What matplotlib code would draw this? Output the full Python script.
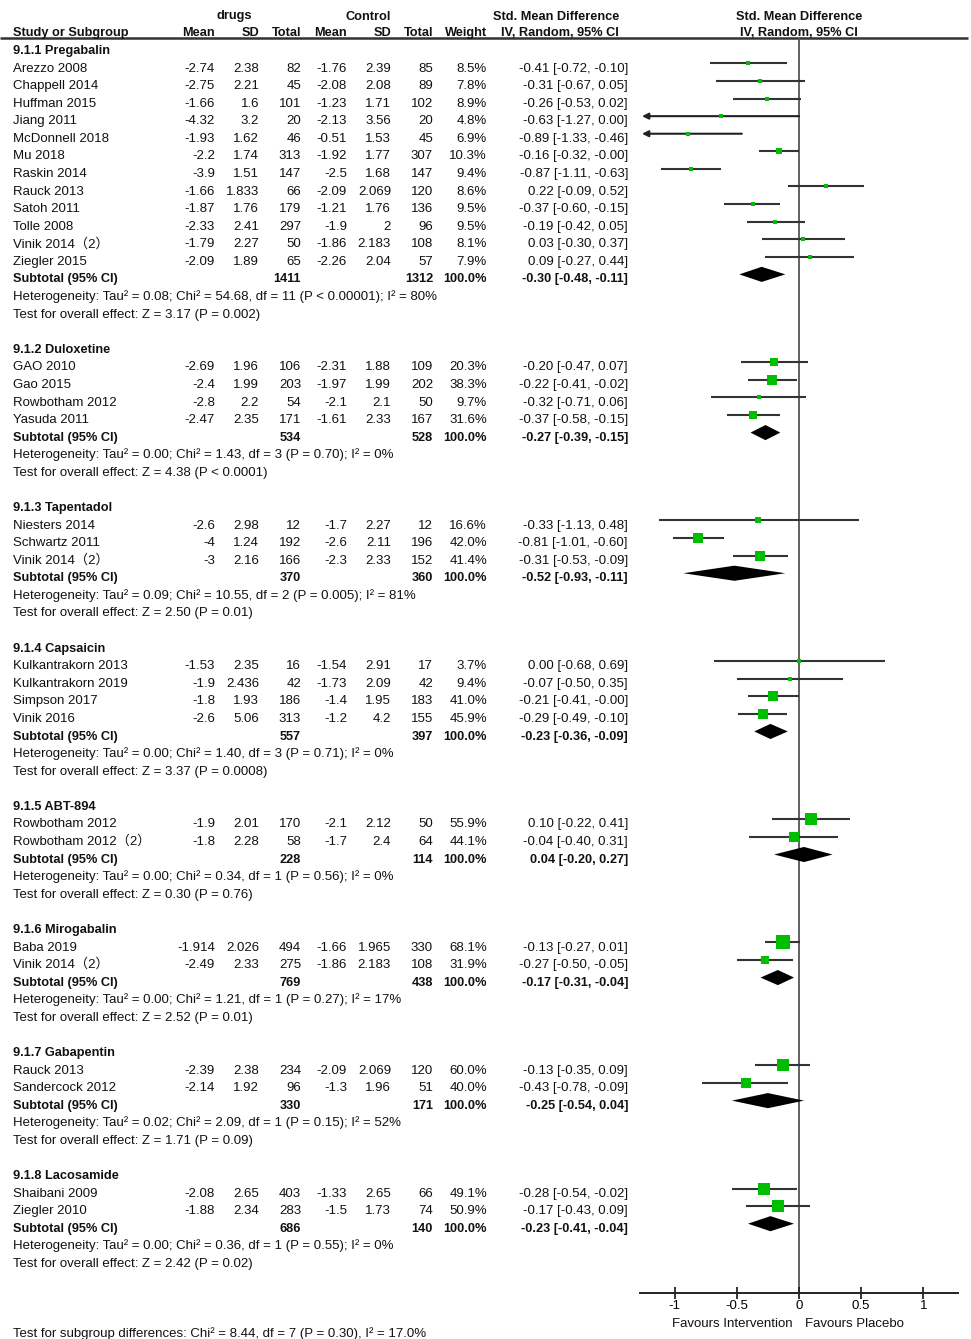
import numpy as np
import matplotlib.pyplot as plt

plt.rcParams['font.family'] = ['Liberation Sans', 'Noto Sans CJK SC']

group_names = ['9.1.1 Pregabalin', '9.1.2 Duloxetine', '9.1.3 Tapentadol', '9.1.4 Capsaicin',
               '9.1.5 ABT-894', '9.1.6 Mirogabalin', '9.1.7 Gabapentin', '9.1.8 Lacosamide']
group_sizes = [12, 4, 3, 4, 2, 2, 2, 2]

studies = ['Arezzo 2008', 'Chappell 2014', 'Huffman 2015', 'Jiang 2011', 'McDonnell 2018', 'Mu 2018',
           'Raskin 2014', 'Rauck 2013', 'Satoh 2011', 'Tolle 2008', 'Vinik 2014（2）', 'Ziegler 2015',
           'GAO 2010', 'Gao 2015', 'Rowbotham 2012', 'Yasuda 2011',
           'Niesters 2014', 'Schwartz 2011', 'Vinik 2014（2）',
           'Kulkantrakorn 2013', 'Kulkantrakorn 2019', 'Simpson 2017', 'Vinik 2016',
           'Rowbotham 2012', 'Rowbotham 2012（2）',
           'Baba 2019', 'Vinik 2014（2）',
           'Rauck 2013', 'Sandercock 2012',
           'Shaibani 2009', 'Ziegler 2010']
drug_mean = [-2.74, -2.75, -1.66, -4.32, -1.93, -2.2, -3.9, -1.66, -1.87, -2.33, -1.79, -2.09,
             -2.69, -2.4, -2.8, -2.47,
             -2.6, -4, -3,
             -1.53, -1.9, -1.8, -2.6,
             -1.9, -1.8,
             -1.914, -2.49,
             -2.39, -2.14,
             -2.08, -1.88]
drug_sd = [2.38, 2.21, 1.6, 3.2, 1.62, 1.74, 1.51, 1.833, 1.76, 2.41, 2.27, 1.89,
           1.96, 1.99, 2.2, 2.35,
           2.98, 1.24, 2.16,
           2.35, 2.436, 1.93, 5.06,
           2.01, 2.28,
           2.026, 2.33,
           2.38, 1.92,
           2.65, 2.34]
drug_n = [82, 45, 101, 20, 46, 313, 147, 66, 179, 297, 50, 65,
          106, 203, 54, 171,
          12, 192, 166,
          16, 42, 186, 313,
          170, 58,
          494, 275,
          234, 96,
          403, 283]
ctrl_mean = [-1.76, -2.08, -1.23, -2.13, -0.51, -1.92, -2.5, -2.09, -1.21, -1.9, -1.86, -2.26,
             -2.31, -1.97, -2.1, -1.61,
             -1.7, -2.6, -2.3,
             -1.54, -1.73, -1.4, -1.2,
             -2.1, -1.7,
             -1.66, -1.86,
             -2.09, -1.3,
             -1.33, -1.5]
ctrl_sd = [2.39, 2.08, 1.71, 3.56, 1.53, 1.77, 1.68, 2.069, 1.76, 2, 2.183, 2.04,
           1.88, 1.99, 2.1, 2.33,
           2.27, 2.11, 2.33,
           2.91, 2.09, 1.95, 4.2,
           2.12, 2.4,
           1.965, 2.183,
           2.069, 1.96,
           2.65, 1.73]
ctrl_n = [85, 89, 102, 20, 45, 307, 147, 120, 136, 96, 108, 57,
          109, 202, 50, 167,
          12, 196, 152,
          17, 42, 183, 155,
          50, 64,
          330, 108,
          120, 51,
          66, 74]
weight = [8.5, 7.8, 8.9, 4.8, 6.9, 10.3, 9.4, 8.6, 9.5, 9.5, 8.1, 7.9,
          20.3, 38.3, 9.7, 31.6,
          16.6, 42.0, 41.4,
          3.7, 9.4, 41.0, 45.9,
          55.9, 44.1,
          68.1, 31.9,
          60.0, 40.0,
          49.1, 50.9]
smd = [-0.41, -0.31, -0.26, -0.63, -0.89, -0.16, -0.87, 0.22, -0.37, -0.19, 0.03, 0.09,
       -0.20, -0.22, -0.32, -0.37,
       -0.33, -0.81, -0.31,
       0.00, -0.07, -0.21, -0.29,
       0.10, -0.04,
       -0.13, -0.27,
       -0.13, -0.43,
       -0.28, -0.17]
ci_lo = [-0.72, -0.67, -0.53, -1.27, -1.33, -0.32, -1.11, -0.09, -0.60, -0.42, -0.30, -0.27,
         -0.47, -0.41, -0.71, -0.58,
         -1.13, -1.01, -0.53,
         -0.68, -0.50, -0.41, -0.49,
         -0.22, -0.40,
         -0.27, -0.50,
         -0.35, -0.78,
         -0.54, -0.43]
ci_hi = [-0.10, 0.05, 0.02, 0.00, -0.46, -0.0, -0.63, 0.52, -0.15, 0.05, 0.37, 0.44,
         0.07, -0.02, 0.06, -0.15,
         0.48, -0.60, -0.09,
         0.69, 0.35, -0.0, -0.10,
         0.41, 0.31,
         0.01, -0.05,
         0.09, -0.09,
         -0.02, 0.09]

sub_drug_n = [1411, 534, 370, 557, 228, 769, 330, 686]
sub_ctrl_n = [1312, 528, 360, 397, 114, 438, 171, 140]
sub_smd = [-0.30, -0.27, -0.52, -0.23, 0.04, -0.17, -0.25, -0.23]
sub_lo = [-0.48, -0.39, -0.93, -0.36, -0.20, -0.31, -0.54, -0.41]
sub_hi = [-0.11, -0.15, -0.11, -0.09, 0.27, -0.04, 0.04, -0.04]
het_tau2 = [0.08, 0.00, 0.09, 0.00, 0.00, 0.00, 0.02, 0.00]
het_chi2 = [54.68, 1.43, 10.55, 1.40, 0.34, 1.21, 2.09, 0.36]
het_df = [11, 3, 2, 3, 1, 1, 1, 1]
het_p = ['< 0.00001', '= 0.70', '= 0.005', '= 0.71', '= 0.56', '= 0.27', '= 0.15', '= 0.55']
het_i2 = [80, 0, 81, 0, 0, 17, 52, 0]
z_val = [3.17, 4.38, 2.50, 3.37, 0.30, 2.52, 1.71, 2.42]
z_p = ['= 0.002', '< 0.0001', '= 0.01', '= 0.0008', '= 0.76', '= 0.01', '= 0.09', '= 0.02']
subgroup_test = 'Test for subgroup differences: Chi² = 8.44, df = 7 (P = 0.30), I² = 17.0%'

# layout (pixels of the 971x1339 canvas, rows of 17.58 px)
W, H = 971, 1339
y0, dy = 49, 17.58
fs = 9.5          # regular text
fsb = 9.2         # bold text
green = '#00bf00'
base = 0.28        # text baseline offset below row centre
moff = -0.18       # marks sit a little above the text centre


def r(px):
    return (px - y0) / dy


fig = plt.figure(figsize=(W / 100, H / 100), dpi=100)
ax = fig.add_axes([0, 0, 1, 1])
ax.set_xlim(0, W)
ax.set_ylim(r(H), r(0))
ax.axis('off')

# forest panel: x=0 at 799px, 124.3 px per unit, axis from y=38 to 1293
ppu = 124.3
fx0, fx1 = 640, 958
axf = fig.add_axes([fx0 / W, 1 - 1293 / H, (fx1 - fx0) / W, (1293 - 38) / H])
axf.set_xlim((fx0 - 799) / ppu, (fx1 - 799) / ppu)
axf.set_ylim(r(1293), r(38))
axf.patch.set_alpha(0)
for s in ['left', 'right', 'top']:
    axf.spines[s].set_visible(False)
axf.spines['bottom'].set_linewidth(1.4)
axf.spines['bottom'].set_color('#222222')
axf.set_yticks([])
axf.set_xticks([-1, -0.5, 0, 0.5, 1])
axf.set_xticklabels(['-1', '-0.5', '0', '0.5', '1'], fontsize=fs)
axf.tick_params(axis='x', direction='inout', length=8, width=1.3, color='#222222', pad=1)
axf.axvline(0, color='#555555', lw=1.3, zorder=1)

cols = [215, 259, 301, 347, 391, 433, 487]
ci_x = 628
left = 13


def txt(x, row, s, ha='left', bold=False):
    ax.text(x, row + base, s, ha=ha, va='baseline', fontsize=fsb if bold else fs,
            fontweight='bold' if bold else 'normal', color='#111111')


# header
hb1, hb2 = r(19.5), r(36)
for x, s in [(234, 'drugs'), (368, 'Control'), (556, 'Std. Mean Difference'), (799, 'Std. Mean Difference')]:
    ax.text(x, hb1, s, ha='center', va='baseline', fontsize=fsb, fontweight='bold', color='#111111')
ax.text(left, hb2, 'Study or Subgroup', ha='left', va='baseline', fontsize=fsb, fontweight='bold', color='#111111')
for x, s in zip(cols, ['Mean', 'SD', 'Total', 'Mean', 'SD', 'Total', 'Weight']):
    ax.text(x, hb2, s, ha='right', va='baseline', fontsize=fsb, fontweight='bold', color='#111111')
ax.text(619, hb2, 'IV, Random, 95% CI', ha='right', va='baseline', fontsize=fsb, fontweight='bold', color='#111111')
ax.text(799, hb2, 'IV, Random, 95% CI', ha='center', va='baseline', fontsize=fsb, fontweight='bold', color='#111111')
ax.hlines(r(38.3), 0, 968, color='#333333', lw=1.8)

clip = -1.263
row = 0
i = 0
for g in range(len(group_names)):
    txt(left, row, group_names[g], bold=True)
    row += 1
    for k in range(group_sizes[g]):
        txt(left, row, studies[i])
        vals = [f'{drug_mean[i]:g}', f'{drug_sd[i]:g}', str(drug_n[i]),
                f'{ctrl_mean[i]:g}', f'{ctrl_sd[i]:g}', str(ctrl_n[i]), f'{weight[i]:.1f}%']
        for x, s in zip(cols, vals):
            txt(x, row, s, ha='right')
        txt(ci_x, row, f'{smd[i]:.2f} [{ci_lo[i]:.2f}, {ci_hi[i]:.2f}]', ha='right')
        ym = row + moff
        if ci_lo[i] < clip:
            axf.annotate('', xy=(clip, ym), xytext=(ci_hi[i], ym),
                         arrowprops=dict(arrowstyle='-|>', color='#222222', lw=1.5,
                                         mutation_scale=9, shrinkA=0, shrinkB=0))
        else:
            axf.hlines(ym, ci_lo[i], ci_hi[i], color='#333333', lw=1.5, zorder=2)
        axf.plot(smd[i], ym, marker='s', ms=1.14 * np.sqrt(weight[i]), color=green, mec=green,
                 mew=0, zorder=3)
        row += 1
        i += 1
    txt(left, row, 'Subtotal (95% CI)', bold=True)
    txt(cols[2], row, str(sub_drug_n[g]), ha='right', bold=True)
    txt(cols[5], row, str(sub_ctrl_n[g]), ha='right', bold=True)
    txt(cols[6], row, '100.0%', ha='right', bold=True)
    txt(ci_x, row, f'{sub_smd[g]:.2f} [{sub_lo[g]:.2f}, {sub_hi[g]:.2f}]', ha='right', bold=True)
    ym = row + moff
    axf.fill([sub_lo[g], sub_smd[g], sub_hi[g], sub_smd[g]], [ym, ym - 0.43, ym, ym + 0.43],
             color='black', lw=0, zorder=3)
    row += 1
    txt(left, row, f'Heterogeneity: Tau² = {het_tau2[g]:.2f}; Chi² = {het_chi2[g]:.2f}, '
                   f'df = {het_df[g]} (P {het_p[g]}); I² = {het_i2[g]}%')
    row += 1
    txt(left, row, f'Test for overall effect: Z = {z_val[g]:.2f} (P {z_p[g]})')
    row += 2

ax.text(793, r(1322) + base, 'Favours Intervention', ha='right', va='baseline', fontsize=fs, color='#111111')
ax.text(805, r(1322) + base, 'Favours Placebo', ha='left', va='baseline', fontsize=fs, color='#111111')
# last group ends at row 69; the subgroup test sits four rows further down
txt(left, row + 2, subgroup_test)

fig.savefig('out.png', dpi=100)
